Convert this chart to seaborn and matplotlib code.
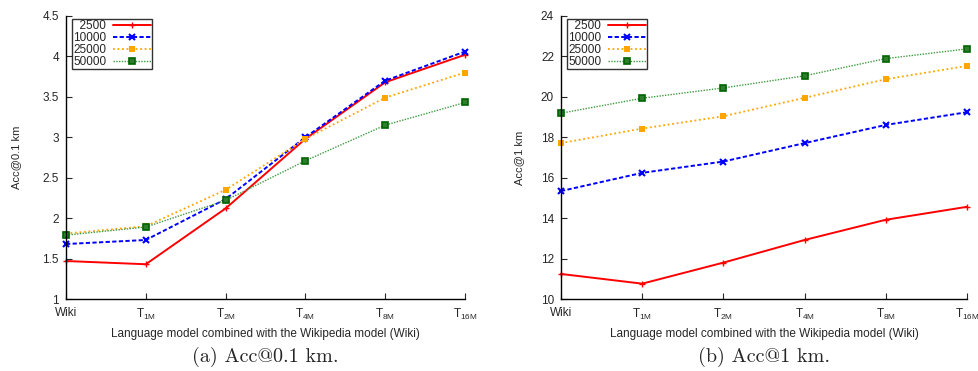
import matplotlib
matplotlib.use("Agg")
import matplotlib.pyplot as plt
import seaborn as sns
import pandas as pd

# categories on the x axis
models = ["Wiki", "T1M", "T2M", "T4M", "T8M", "T16M"]
tick_labels = ["Wiki", r"T$_{\mathregular{1M}}$", r"T$_{\mathregular{2M}}$",
               r"T$_{\mathregular{4M}}$", r"T$_{\mathregular{8M}}$", r"T$_{\mathregular{16M}}$"]
series = ["2500", "10000", "25000", "50000"]

# Acc@0.1 km
acc01_2500 = [1.47, 1.43, 2.12, 2.98, 3.68, 4.02]
acc01_10000 = [1.68, 1.73, 2.235, 3.00, 3.70, 4.06]
acc01_25000 = [1.81, 1.90, 2.35, 2.98, 3.49, 3.80]
acc01_50000 = [1.79, 1.89, 2.22, 2.71, 3.15, 3.43]

# Acc@1 km
acc1_2500 = [11.24, 10.76, 11.80, 12.92, 13.92, 14.56]
acc1_10000 = [15.34, 16.24, 16.80, 17.71, 18.61, 19.24]
acc1_25000 = [17.71, 18.43, 19.04, 19.95, 20.87, 21.53]
acc1_50000 = [19.19, 19.93, 20.44, 21.04, 21.89, 22.37]

sns.set_style("ticks")
plt.rcParams["font.family"] = ["Liberation Sans", "DejaVu Sans"]
plt.rcParams["mathtext.fontset"] = "custom"
plt.rcParams["mathtext.rm"] = "Liberation Sans"
plt.rcParams["mathtext.it"] = "Liberation Sans"

styles = {
    "2500": dict(color="#ff0000", linestyle="-", marker="+", lw=1.4, ms=5, mew=1.0,
                 mec="#ff0000", mfc="#ff0000"),
    "10000": dict(color="#0000ff", linestyle=(0, (2.2, 1.2)), marker="x", lw=1.4, ms=4, mew=1.5,
                  mec="#0000ff", mfc="#0000ff"),
    "25000": dict(color="#ffa500", linestyle=(0, (1, 1.5)), marker="s", lw=1.3, ms=4, mew=0,
                  mec="#ffa500", mfc="#ffa500"),
    "50000": dict(color="#3f9a3f", linestyle=(0, (1, 1)), marker="s", lw=1.0, ms=5,
                  mew=1.2, mec="#006400", mfc="#2e7d2e"),
}


def make_df(vals):
    rows = []
    for s, v in zip(series, vals):
        for i, y in enumerate(v):
            rows.append({"x": i, "y": y, "size": s})
    return pd.DataFrame(rows)


fig = plt.figure(figsize=(9.79, 3.71), dpi=100)
ax1 = fig.add_axes([0.0674, 0.194, 0.4076, 0.763])
ax2 = fig.add_axes([0.573, 0.194, 0.4147, 0.763])

panels = [
    (ax1, make_df([acc01_2500, acc01_10000, acc01_25000, acc01_50000]),
     "Acc@0.1 km", (1, 4.5), [1, 1.5, 2, 2.5, 3, 3.5, 4, 4.5], ["1", "1.5", "2", "2.5", "3", "3.5", "4", "4.5"],
     "(a) Acc@0.1 km.", -0.112),
    (ax2, make_df([acc1_2500, acc1_10000, acc1_25000, acc1_50000]),
     "Acc@1 km", (10, 24), list(range(10, 25, 2)), [str(v) for v in range(10, 25, 2)],
     "(b) Acc@1 km.", -0.09),
]

for ax, df, ylabel, ylim, yticks, ylabels, caption, ylab_x in panels:
    for s in series:
        st = dict(styles[s])
        color = st.pop("color")
        ls = st.pop("linestyle")
        lw = st.pop("lw")
        ms = st.pop("ms")
        sns.lineplot(data=df[df["size"] == s], x="x", y="y", ax=ax, color=color,
                     linestyle=ls, linewidth=lw, marker=st.pop("marker"), markersize=ms,
                     label="\u2007" * (5 - len(s)) + s, clip_on=False, **st)
    ax.set_xlim(0, 5)
    ax.set_ylim(*ylim)
    ax.set_xticks(range(len(models)))
    ax.set_xticklabels(tick_labels, fontsize=8.5)
    ax.set_yticks(yticks)
    ax.set_yticklabels(ylabels, fontsize=8.5)
    ax.tick_params(direction="in", length=4, width=0.8)
    ax.tick_params(axis="x", pad=6)
    ax.tick_params(axis="y", pad=5)
    ax.set_xlabel("Language model combined with the Wikipedia model (Wiki)", fontsize=8.5, labelpad=4)
    ax.set_ylabel(ylabel, fontsize=8)
    ax.yaxis.set_label_coords(ylab_x, 0.5)
    for sp in ["top", "right"]:
        ax.spines[sp].set_visible(False)
    for sp in ["left", "bottom"]:
        ax.spines[sp].set_linewidth(1.0)
        ax.spines[sp].set_color("black")
    leg = ax.legend(loc="upper left", bbox_to_anchor=(0.015, 0.99), markerfirst=False,
                    fontsize=8.5, frameon=True, fancybox=False, handlelength=3.2,
                    handletextpad=0.6, borderpad=0.1, labelspacing=0.0, borderaxespad=0)
    leg.get_frame().set_edgecolor("black")
    leg.get_frame().set_linewidth(1.0)
    pos = ax.get_position()
    fig.text(pos.x0 + pos.width / 2, 0.037, caption, ha="center", va="center",
             fontsize=14.5, family=["cmr10", "Liberation Serif"])

fig.savefig("out.png", dpi=100)
